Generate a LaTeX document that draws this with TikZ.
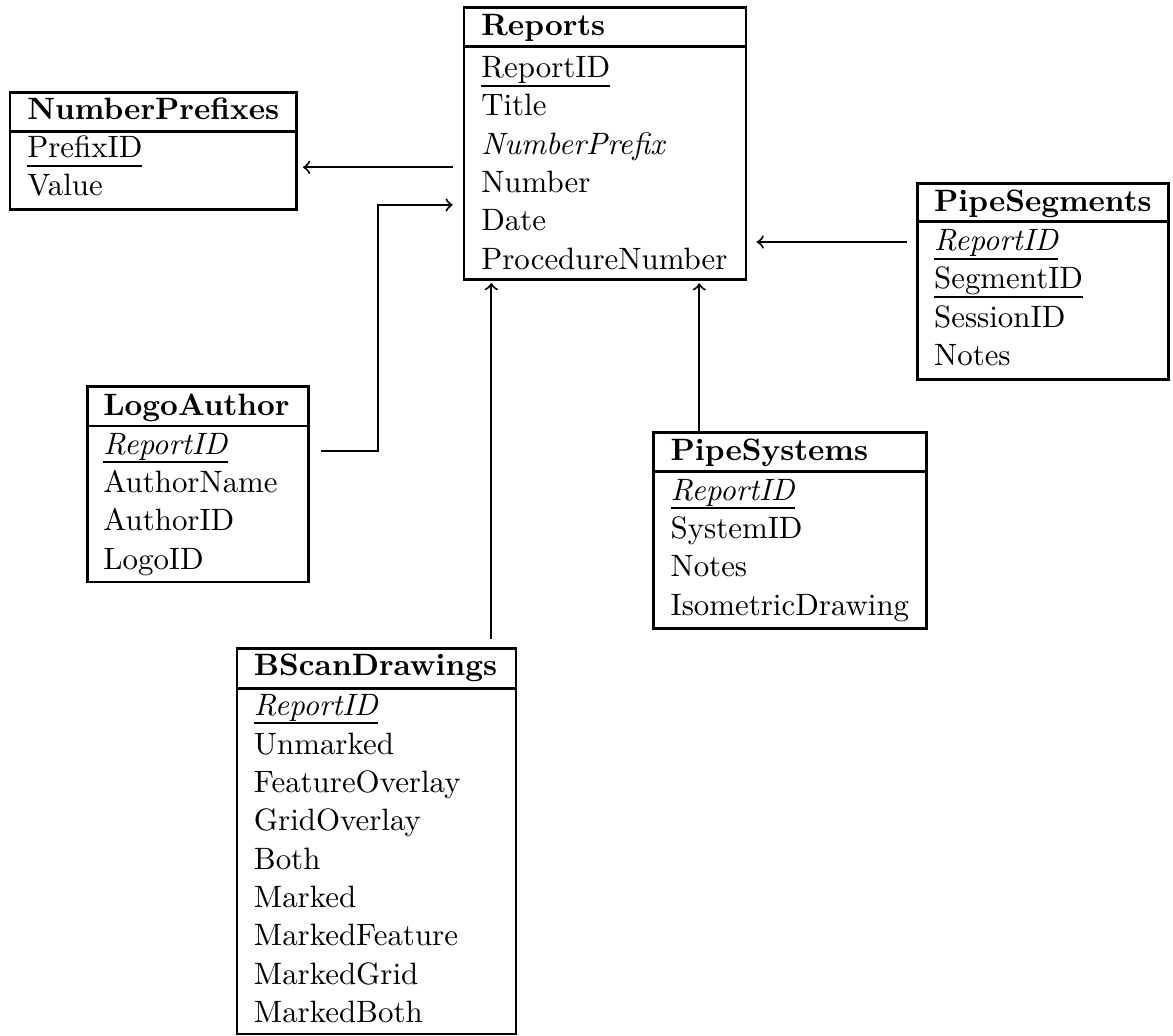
\documentclass[tikz,border=0pt]{standalone}
\usetikzlibrary{fit,calc}
\newcommand\keyul[1]{\setbox0\hbox{#1}\rlap{\rule[-3pt]{\wd0}{0.6pt}}\box0}
\tikzset{
  tbox/.style={draw, line width=0.95pt, inner sep=0pt, outer sep=0pt},
  sepline/.style={line width=0.95pt},
  hdr/.style={anchor=base west, inner sep=0pt, font=\bfseries},
  fld/.style={anchor=base west, inner sep=0pt},
  rel/.style={-to, line width=0.65pt},
}
\begin{document}
\begin{tikzpicture}[x=0.3236pt,y=-0.3236pt]
\useasboundingbox (0,0) rectangle (1173,1036);

% ---------- Reports
\node[tbox, fit={(464,7.3)(746,279.3)}] (rep) {};
\draw[sepline] ($(rep.north west)+(0,39.4)$) -- ($(rep.north east)+(0,39.4)$);
\node[hdr] (rep-h) at (480.7,35) {Reports};
\foreach \yy/\ftext [count=\i] in {77.3/{\keyul{ReportID}}, 115.7/Title, 154/{\textit{NumberPrefix}}, 192.4/Number, 230.8/Date, 269.2/ProcedureNumber}
  \node[fld] (rep-\i) at (480.7,\yy) {\ftext};

% ---------- NumberPrefixes
\node[tbox, fit={(10,92.7)(296.7,209.3)}] (np) {};
\draw[sepline] ($(np.north west)+(0,39)$) -- ($(np.north east)+(0,39)$);
\node[hdr] (np-h) at (26.7,119.3) {NumberPrefixes};
\foreach \yy/\ftext [count=\i] in {157.3/{\keyul{PrefixID}}, 195.3/Value}
  \node[fld] (np-\i) at (26.7,\yy) {\ftext};

% ---------- PipeSegments
\node[tbox, fit={(917.7,183.3)(1168.3,379.3)}] (pseg) {};
\draw[sepline] ($(pseg.north west)+(0,38.4)$) -- ($(pseg.north east)+(0,38.4)$);
\node[hdr] (pseg-h) at (933.5,211.7) {PipeSegments};
\foreach \yy/\ftext [count=\i] in {250.7/{\keyul{\textit{ReportID}}}, 288.7/{\keyul{SegmentID}}, 327/SessionID, 365.4/Notes}
  \node[fld] (pseg-\i) at (933.5,\yy) {\ftext};

% ---------- LogoAuthor
\node[tbox, fit={(87.3,386.7)(308.3,582)}] (la) {};
\draw[sepline] ($(la.north west)+(0,39.3)$) -- ($(la.north east)+(0,39.3)$);
\node[hdr] (la-h) at (102.7,415) {LogoAuthor};
\foreach \yy/\ftext [count=\i] in {454/{\keyul{\textit{ReportID}}}, 492.4/AuthorName, 530.8/AuthorID, 569.2/LogoID}
  \node[fld] (la-\i) at (102.7,\yy) {\ftext};

% ---------- PipeSystems
\node[tbox, fit={(653.3,432.3)(926.7,628.3)}] (psys) {};
\draw[sepline] ($(psys.north west)+(0,39.4)$) -- ($(psys.north east)+(0,39.4)$);
\node[hdr] (psys-h) at (670,460) {PipeSystems};
\foreach \yy/\ftext [count=\i] in {500/{\keyul{\textit{ReportID}}}, 538.3/SystemID, 576.7/Notes, 615/IsometricDrawing}
  \node[fld] (psys-\i) at (670,\yy) {\ftext};

% ---------- BScanDrawings
\node[tbox, fit={(237,648.3)(516,1034)}] (bs) {};
\draw[sepline] ($(bs.north west)+(0,40)$) -- ($(bs.north east)+(0,40)$);
\node[hdr] (bs-h) at (253.3,675) {BScanDrawings};
\foreach \yy/\ftext [count=\i] in {715/{\keyul{\textit{ReportID}}}, 754/Unmarked, 792.3/FeatureOverlay, 830.7/GridOverlay, 869/Both, 907.4/Marked, 945.8/MarkedFeature, 984.2/MarkedGrid, 1022.6/MarkedBoth}
  \node[fld] (bs-\i) at (253.3,\yy) {\ftext};

% ---------- connectors
\coordinate (a1s) at ($(rep.north west)+(-11,160)$);
\coordinate (a1e) at ($(np.north east)+(6.3,74.6)$);
\draw[rel] (a1s) -- (a1e);

\coordinate (a2s) at ($(la.north east)+(13,64.3)$);
\coordinate (a2e) at ($(rep.north west)+(-11.3,197.7)$);
\coordinate (a2c) at ($(a2e)+(-75,0)$);
\draw[rel] (a2s) -| (a2c) -- (a2e);

\coordinate (a3s) at ($(bs.north west)+(254.3,-9.3)$);
\coordinate (a3e) at ($(rep.south west)+(27.3,3.7)$);
\draw[rel] (a3s) -- (a3e);

\coordinate (a4s) at ($(psys.north west)+(46,0)$);
\coordinate (a4e) at ($(rep.south west)+(235.3,4)$);
\draw[rel] (a4s) -- (a4e);

\coordinate (a5s) at ($(pseg.north west)+(-11,58.7)$);
\coordinate (a5e) at ($(rep.north east)+(10.7,234.7)$);
\draw[rel] (a5s) -- (a5e);
\end{tikzpicture}
\end{document}
